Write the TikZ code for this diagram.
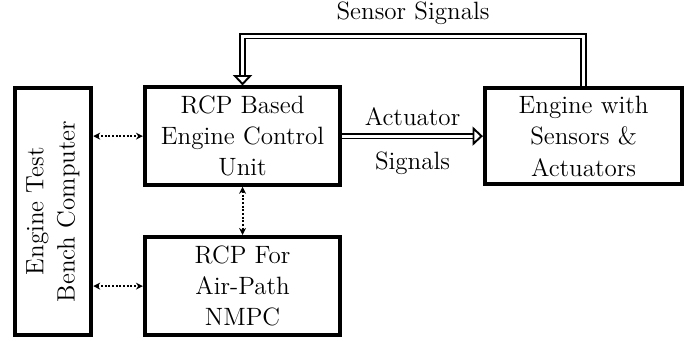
\documentclass[tikz,border=0pt]{standalone}
\usepackage{tikz}
\usetikzlibrary{calc,arrows.meta}

\begin{document}
\begin{tikzpicture}[
    block/.style={draw, line width=2.2pt, align=center, font=\Large,
        minimum width=3.95cm, minimum height=1.97cm, inner sep=2pt},
    signal/.style={double, line width=1.1pt, double distance=1.6pt,
        -{Triangle[open, length=6pt, width=11pt, line width=1.1pt]}},
    link/.style={densely dotted, line width=1.1pt,
        {Stealth[length=4pt, width=4pt]}-{Stealth[length=4pt, width=4pt]}}
]

            \useasboundingbox (0,0) rectangle (13.98,6.87);

            \coordinate (top) at (0,6.14);

            \node[block] (ecu) at (4.90,4.12) {RCP Based\\Engine Control\\Unit};
            \node[block, minimum width=3.99cm, minimum height=1.95cm] (eng) at (11.79,4.12) {Engine with\\Sensors \&\\Actuators};
            \node[block, minimum height=1.99cm] (nmpc) at (4.90,1.09) {RCP For\\Air-Path\\NMPC};
            \node[block, rotate=90, minimum width=5.0cm, minimum height=1.55cm] (bench) at (1.07,2.60) {Engine Test\\Bench Computer};

            \draw[signal] (ecu.east) -- node[above=2pt, font=\Large] {Actuator} node[below=5pt, font=\Large] {Signals} (eng.west);
            \draw[signal] (eng.north) |- node[pos=0.75, above=3pt, font=\Large] {Sensor Signals} (ecu.north |- top) -- (ecu.north);

            \begin{scope}[link]
                \draw (ecu.west -| bench.south) -- (ecu.west);
                \draw (nmpc.west -| bench.south) -- (nmpc.west);
                \draw (ecu.south) -- (nmpc.north);
            \end{scope}
        \end{tikzpicture}
\end{document}
